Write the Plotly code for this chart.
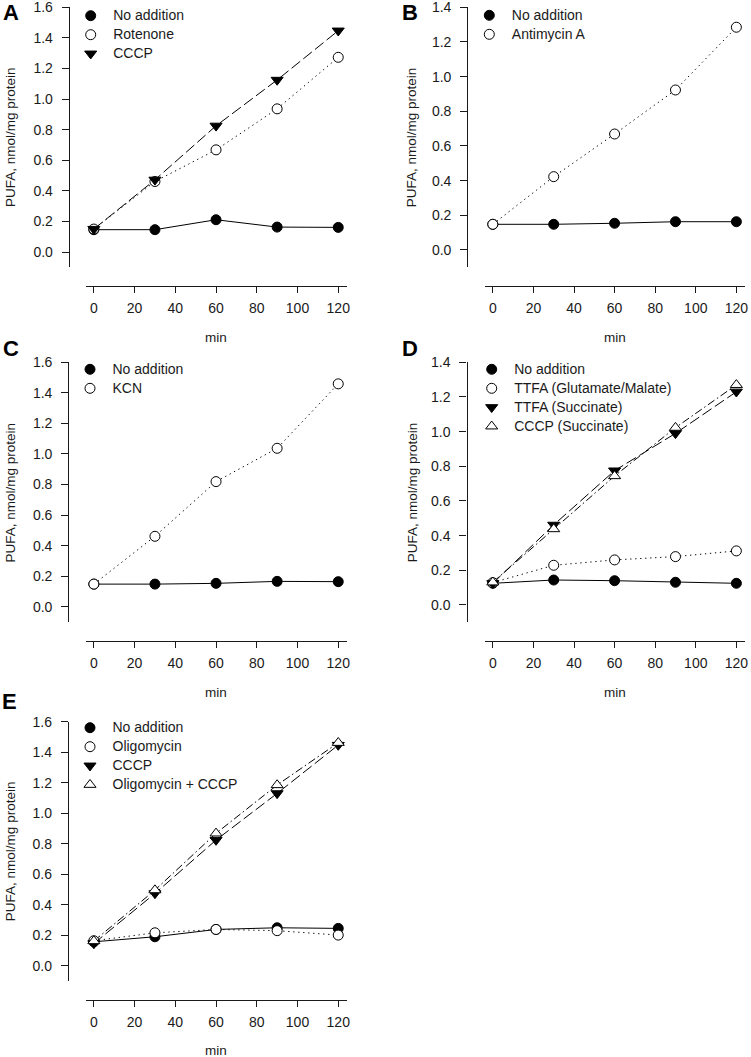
import plotly.graph_objects as go

W, H = 751, 1057
FONT = "Liberation Sans, Arial, sans-serif"
INK = "#1a1a1a"
TICK_SIZE = 14
LEG_SIZE = 14

# ---------------- data ----------------
time_min = [0, 30, 60, 90, 120]
x_ticks = [0, 20, 40, 60, 80, 100, 120]
y_ticks_16 = [0.0, 0.2, 0.4, 0.6, 0.8, 1.0, 1.2, 1.4, 1.6]
y_ticks_14 = [0.0, 0.2, 0.4, 0.6, 0.8, 1.0, 1.2, 1.4]
panel_labels = ["A", "B", "C", "D", "E"]
x_title = "min"
y_title = "PUFA, nmol/mg protein"

# Panel A
a_names = ["No addition", "Rotenone", "CCCP"]
a_no_addition = [0.146, 0.146, 0.211, 0.163, 0.161]
a_rotenone = [0.150, 0.461, 0.668, 0.936, 1.273]
a_cccp = [0.150, 0.472, 0.825, 1.125, 1.447]

# Panel B
b_names = ["No addition", "Antimycin A"]
b_no_addition = [0.148, 0.148, 0.154, 0.163, 0.163]
b_antimycin_a = [0.148, 0.423, 0.669, 0.923, 1.285]

# Panel C
c_names = ["No addition", "KCN"]
c_no_addition = [0.148, 0.148, 0.153, 0.166, 0.164]
c_kcn = [0.148, 0.461, 0.819, 1.037, 1.459]

# Panel D
d_names = ["No addition", "TTFA (Glutamate/Malate)", "TTFA (Succinate)", "CCCP (Succinate)"]
d_no_addition = [0.125, 0.144, 0.140, 0.131, 0.125]
d_ttfa_gm = [0.129, 0.229, 0.260, 0.279, 0.312]
d_ttfa_succ = [0.125, 0.462, 0.775, 0.990, 1.230]
d_cccp_succ = [0.131, 0.438, 0.744, 1.023, 1.270]

# Panel E
e_names = ["No addition", "Oligomycin", "CCCP", "Oligomycin + CCCP"]
e_no_addition = [0.157, 0.190, 0.238, 0.249, 0.245]
e_oligomycin = [0.164, 0.216, 0.238, 0.230, 0.201]
e_cccp = [0.146, 0.474, 0.824, 1.130, 1.447]
e_oligo_cccp = [0.162, 0.496, 0.868, 1.185, 1.462]

# ---------------- styles ----------------
DOT = "1.3px,3.7px"
LONGDASH = "11px,4px"
DASHDOT = "8px,3px,1.5px,3px"
S_FILLED = dict(symbol="circle", fill="black", dash="solid", size=10)
S_OPEN = dict(symbol="circle", fill="white", dash=DOT, size=10)
S_TDOWN = dict(symbol="triangle-down", fill="black", dash=LONGDASH, size=10.5)
S_TUP = dict(symbol="triangle-up", fill="white", dash=DASHDOT, size=10.5)

# geometry in pixels
panels = [
    dict(series=[a_no_addition, a_rotenone, a_cccp], names=a_names,
         styles=[S_FILLED, S_OPEN, S_TDOWN], yticks=y_ticks_16,
         x0=85.7, x1=347.0, ytop=7.3, ybot=267.3, yax=68.8, xay=285.7,
         leg=(68.2, 15.7), letter=(1, 12.5), ytitle=10.8, xtitle=337.0),
    dict(series=[b_no_addition, b_antimycin_a], names=b_names,
         styles=[S_FILLED, S_OPEN], yticks=y_ticks_14,
         x0=484.7, x1=745.1, ytop=7.3, ybot=267.3, yax=467.3, xay=285.7,
         leg=(466.8, 15.3), letter=(399.5, 12.5), ytitle=411.0, xtitle=337.0),
    dict(series=[c_no_addition, c_kcn], names=c_names,
         styles=[S_FILLED, S_OPEN], yticks=y_ticks_16,
         x0=85.7, x1=347.0, ytop=362.3, ybot=622.0, yax=68.3, xay=641.0,
         leg=(67.5, 369.3), letter=(1, 349.0), ytitle=10.3, xtitle=692.0),
    dict(series=[d_no_addition, d_ttfa_gm, d_ttfa_succ, d_cccp_succ], names=d_names,
         styles=[S_FILLED, S_OPEN, S_TDOWN, S_TUP], yticks=y_ticks_14,
         x0=484.7, x1=745.1, ytop=362.3, ybot=622.3, yax=466.5, xay=641.0,
         leg=(469.2, 369.3), letter=(399.5, 348.5), ytitle=412.0, xtitle=692.0),
    dict(series=[e_no_addition, e_oligomycin, e_cccp, e_oligo_cccp], names=e_names,
         styles=[S_FILLED, S_OPEN, S_TDOWN, S_TUP], yticks=y_ticks_16,
         x0=85.7, x1=347.0, ytop=721.7, ybot=981.0, yax=67.9, xay=1000.0,
         leg=(67.5, 727.7), letter=(0, 701.5), ytitle=10.8, xtitle=1050.3),
]

fig = go.Figure()
layout = dict(
    width=W, height=H, autosize=False,
    margin=dict(l=0, r=0, t=0, b=0, pad=0),
    paper_bgcolor="white", plot_bgcolor="white",
    font=dict(family=FONT, size=13.5, color=INK),
    showlegend=True,
)
annotations = []
ITEMW = 35
for k, p in enumerate(panels, start=1):
    xs = "" if k == 1 else str(k)
    xref, yref = "x" + xs, "y" + xs
    legname = "legend" + xs
    # lines first
    for vals, sty in zip(p["series"], p["styles"]):
        fig.add_trace(go.Scatter(
            x=time_min, y=vals, mode="lines", xaxis=xref, yaxis=yref,
            line=dict(color="black", width=1, dash=sty["dash"]),
            showlegend=False, hoverinfo="skip"))
    # markers on top, with legend entries
    for vals, sty, name in zip(p["series"], p["styles"], p["names"]):
        fig.add_trace(go.Scatter(
            x=time_min, y=vals, mode="markers", xaxis=xref, yaxis=yref,
            name='<span style="font-size:%spx">' % LEG_SIZE + name + "</span>",
            legend=legname,
            marker=dict(symbol=sty["symbol"], size=sty["size"], color=sty["fill"],
                        line=dict(color="black", width=1))))
    ymax = p["yticks"][-1]
    layout["xaxis" + xs] = dict(
        domain=[p["x0"] / W, p["x1"] / W], range=[-4, 124.3],
        anchor="free", position=1 - p["xay"] / H,
        showline=True, linecolor=INK, linewidth=1.3, mirror=False,
        ticks="outside", ticklen=6, tickwidth=1.2, tickcolor=INK,
        tickvals=x_ticks, ticktext=[str(t) for t in x_ticks],
        showgrid=False, zeroline=False, automargin=False,
        tickfont=dict(family=FONT, size=TICK_SIZE, color=INK),
        ticklabelstandoff=3, ticklabeloverflow="allow")
    layout["yaxis" + xs] = dict(
        domain=[1 - p["ybot"] / H, 1 - p["ytop"] / H], range=[-0.1, ymax],
        anchor="free", position=p["yax"] / W,
        showline=True, linecolor=INK, linewidth=1.3,
        ticks="outside", ticklen=7, tickwidth=1.2, tickcolor=INK,
        tickvals=p["yticks"], ticktext=["%.1f" % t for t in p["yticks"]],
        showgrid=False, zeroline=False, automargin=False,
        tickfont=dict(family=FONT, size=TICK_SIZE, color=INK),
        ticklabelstandoff=6, ticklabeloverflow="allow")
    layout[legname] = dict(
        x=p["leg"][0] / W, y=1 - (p["leg"][1] - 14.5) / H,
        xanchor="left", yanchor="top", bgcolor="rgba(0,0,0,0)",
        borderwidth=0, itemwidth=ITEMW, traceorder="normal",
        font=dict(family=FONT, size=11, color=INK), tracegroupgap=0)
    # panel letter
    annotations.append(dict(
        text="<b>" + panel_labels[k - 1] + "</b>", xref="paper", yref="paper",
        x=p["letter"][0] / W, y=1 - p["letter"][1] / H, xanchor="left", yanchor="middle",
        showarrow=False, font=dict(family=FONT, size=22, color="black")))
    # y title
    yc = (p["ytop"] + p["ybot"]) / 2
    annotations.append(dict(
        text=y_title, xref="paper", yref="paper", textangle=-90,
        x=p["ytitle"] / W, y=1 - yc / H, xanchor="center", yanchor="middle",
        showarrow=False, font=dict(family=FONT, size=13.5, color=INK)))
    # x title
    annotations.append(dict(
        text=x_title, xref="paper", yref="paper",
        x=(p["x0"] + p["x1"]) / 2 / W, y=1 - p["xtitle"] / H,
        xanchor="center", yanchor="middle",
        showarrow=False, font=dict(family=FONT, size=13.5, color=INK)))

layout["annotations"] = annotations
fig.update_layout(**layout)
fig.write_html(
    "out.html",
    config={"displayModeBar": False},
    post_script="document.body.style.margin='0';document.body.style.overflow='hidden';",
)
